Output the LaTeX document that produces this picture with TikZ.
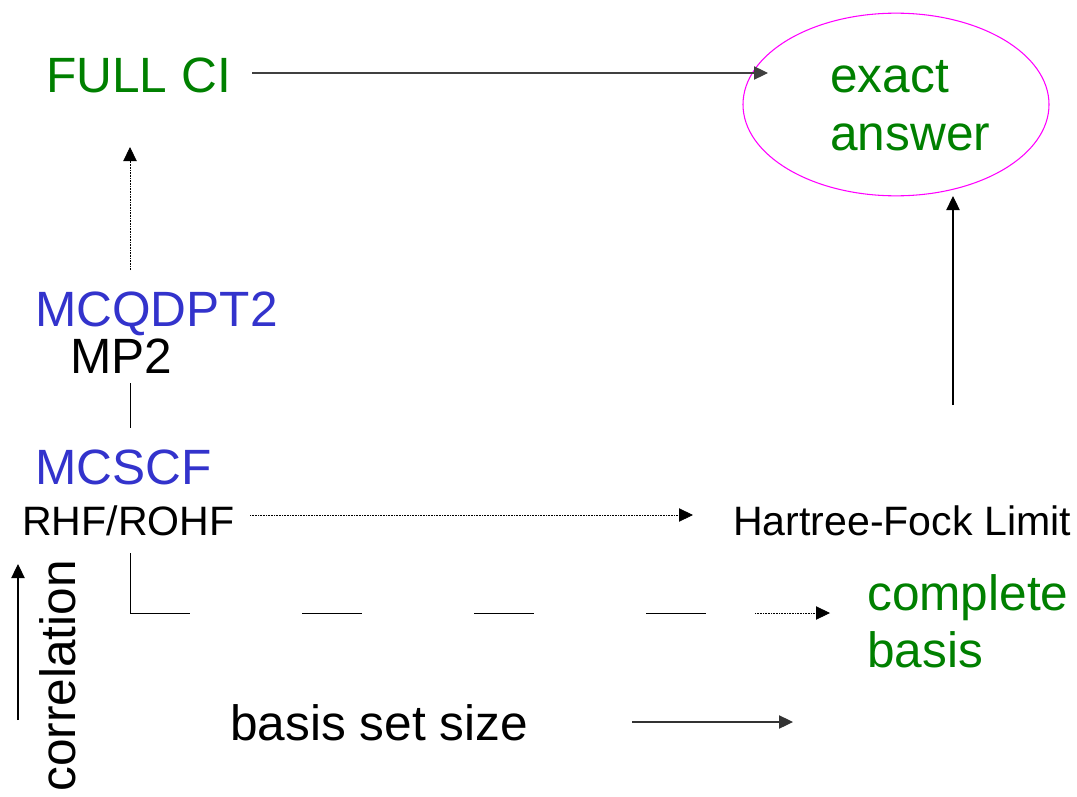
\documentclass[tikz,border=0pt]{standalone}
\usepackage{fontspec}
\setmainfont{Liberation Sans}
\usetikzlibrary{arrows.meta,shapes.geometric}
\definecolor{tgreen}{RGB}{0,128,0}
\definecolor{tblue}{RGB}{51,51,204}
\definecolor{tmag}{RGB}{255,0,255}
\begin{document}
\begin{tikzpicture}[x=0.75pt,y=-0.75pt,
  big/.style={inner sep=0pt,anchor=base west,font=\fontsize{37.2}{44}\selectfont},
  mid/.style={inner sep=0pt,anchor=base west,font=\fontsize{30.8}{37}\selectfont},
  arr/.style={line width=0.8pt,-{Triangle[length=10.5pt,width=10pt]}},
  dotarr/.style={line width=0.6pt,dash pattern=on 0.6pt off 0.6pt,-{Triangle[length=10.5pt,width=10pt]}},
  plain/.style={line width=0.75pt}]
\useasboundingbox[fill=white] (0,0) rectangle (1077,796);
% nodes
\node[big,text=tgreen] (fullci) at (46,92) {FULL CI};
\node[draw=tmag,line width=0.8pt,ellipse,minimum width=229.5pt,minimum height=137pt,inner sep=0pt] (exact) at (896,104.5) {};
\node[big,text=tgreen] (exacttxt) at (830,92) {exact};
\node[big,text=tgreen] (answertxt) at (830,150) {answer};
\node[big,text=tblue] (mcqdpt) at (35,326) {MCQDPT2};
\node[big] (mp2) at (70,373) {MP2};
\node[big,text=tblue] (mcscf) at (35,484) {MCSCF};
\node[mid] (rhf) at (22,535) {RHF/ROHF};
\node[mid] (hfl) at (733,535) {Hartree-Fock Limit};
\node[big,text=tgreen] (complete) at (867,610) {complete};
\node[big,text=tgreen] (basis) at (867,667) {basis};
\node[big] (bss) at (230,740) {basis set size};
\node[big,rotate=90] (corr) at (75,792) {correlation};
% coordinates
\coordinate (a1) at (252,73);
\coordinate (a2) at (768,73);
\coordinate (b1) at (953,405);
\coordinate (b2) at (953,196);
\coordinate (c1) at (130,270);
\coordinate (c2) at (130,147);
\coordinate (d1) at (130,383);
\coordinate (d2) at (130,428);
\coordinate (e1) at (250,515);
\coordinate (e2) at (693,515);
\coordinate (f1) at (130,553);
\coordinate (f2) at (130,613);
\coordinate (f3) at (706,613);
\coordinate (g1) at (755,613);
\coordinate (g2) at (830,613);
\coordinate (h1) at (632,722);
\coordinate (h2) at (793,722);
\coordinate (k1) at (18,720);
\coordinate (k2) at (18,564);
% connectors
\draw[arr,draw=black!75] (a1) -- (a2);
\draw[arr] (b1) -- (b2);
\draw[dotarr] (c1) -- (c2);
\draw[plain] (d1) -- (d2);
\draw[dotarr] (e1) -- (e2);
\draw[plain,dash pattern=on 90pt off 84pt on 45pt off 84pt on 45pt off 84pt on 45pt off 200pt] (f1) -- (f2) -- (f3);
\draw[dotarr] (g1) -- (g2);
\draw[arr,draw=black!80] (h1) -- (h2);
\draw[arr] (k1) -- (k2);
\end{tikzpicture}
\end{document}
